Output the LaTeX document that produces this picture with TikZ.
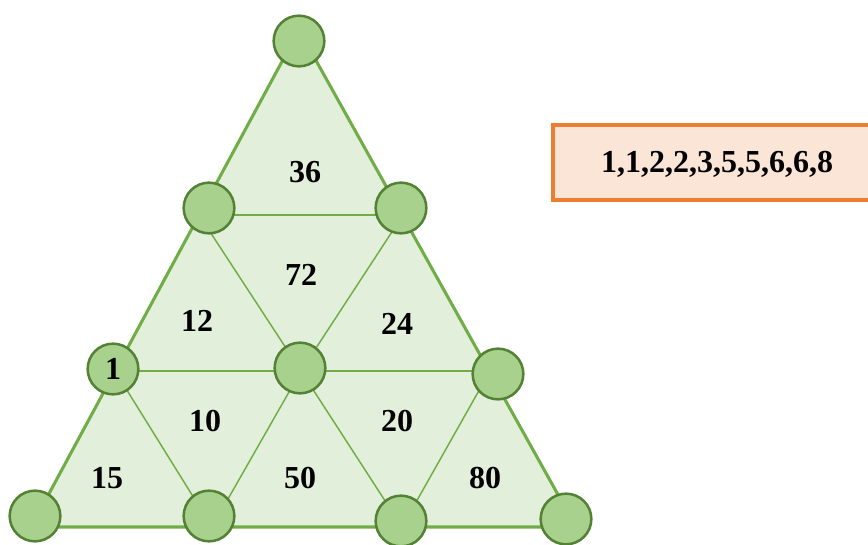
\documentclass[tikz,border=0pt]{standalone}
\usepackage{fontspec}
\setmainfont{Liberation Serif}
\definecolor{trifill}{HTML}{E2EFDA}
\definecolor{triline}{HTML}{70AD47}
\definecolor{dotfill}{HTML}{A9D18E}
\definecolor{dotline}{HTML}{548235}
\definecolor{boxfill}{HTML}{FBE5D6}
\definecolor{boxline}{HTML}{ED7D31}
\begin{document}
\begin{tikzpicture}[x=0.75pt,y=-0.75pt,
  dot/.style={circle,draw=dotline,fill=dotfill,line width=1.9pt,minimum size=38pt,inner sep=0pt,font=\fontsize{24}{28}\selectfont\bfseries},
  lbl/.style={font=\fontsize{24}{28}\selectfont\bfseries,inner sep=0pt},
  inner/.style={draw=triline,line width=1.1pt},
  outer/.style={draw=triline,line width=2.3pt,line join=round}]
\useasboundingbox (0,0) rectangle (868,545);
\clip (0,0) rectangle (868,545);
% grid vertices
\coordinate (A) at (299,30);
\coordinate (B1) at (199,215);
\coordinate (B2) at (403,215);
\coordinate (C1) at (115,371);
\coordinate (C2) at (301,371);
\coordinate (C3) at (490,371);
\coordinate (D1) at (31,527);
\coordinate (D2) at (212,527);
\coordinate (D3) at (402,527);
\coordinate (D4) at (576,527);
\fill[trifill] (A) -- (D1) -- (D4) -- cycle;
% inner lines
\draw[inner] (B1) -- (B2);
\draw[inner] (C1) -- (C3);
\draw[inner] (B1) -- (C2) -- (B2);
\draw[inner] (C1) -- (D2) -- (C2) -- (D3) -- (C3);
\draw[outer] (A) -- (D1) -- (D4) -- cycle;
% labels
\node[lbl] (l36) at (305,172) {36};
\node[lbl] (l72) at (301,275) {72};
\node[lbl] (l12) at (197,321) {12};
\node[lbl] (l24) at (397,324) {24};
\node[lbl] (l10) at (205,421) {10};
\node[lbl] (l20) at (397,421) {20};
\node[lbl] (l15) at (107,478) {15};
\node[lbl] (l50) at (300,478) {50};
\node[lbl] (l80) at (485,478) {80};
% circles
\node[dot] (n1) at (299,41) {};
\node[dot] (n2) at (209,208) {};
\node[dot] (n3) at (401,208) {};
\node[dot] (n4) at (113,369) {1};
\node[dot] (n5) at (300,368) {};
\node[dot] (n6) at (498,374) {};
\node[dot] (n7) at (35,516) {};
\node[dot] (n8) at (209,516) {};
\node[dot] (n9) at (401,521) {};
\node[dot] (n10) at (566,519) {};
% number box
\draw[draw=boxline,fill=boxfill,line width=3pt] (553,125) rectangle (880,200);
\node[lbl] (nums) at (717,164) {1,1,2,2,3,5,5,6,6,8};
\end{tikzpicture}
\end{document}
